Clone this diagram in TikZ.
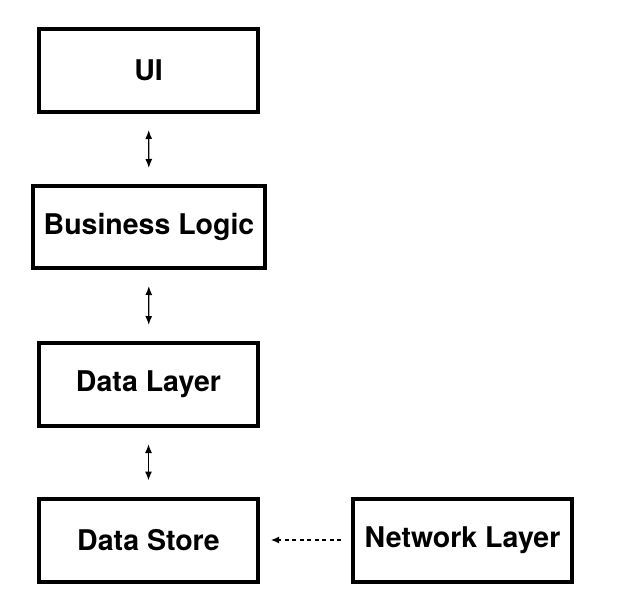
\documentclass[tikz,border=0pt]{standalone}
\usepackage{fontspec}
\setmainfont{TeX Gyre Heros}
\usetikzlibrary{positioning, arrows.meta}

\begin{document}
\begin{tikzpicture}[x=1pt, y=-1pt]
\tikzstyle{layer}=[rectangle, draw=black, line width=4pt, minimum width=219pt, minimum height=83pt, inner sep=0pt, font=\fontsize{28.5}{34}\selectfont\bfseries]
\tikzstyle{connect}=[{Latex[length=9pt,width=7pt]}-{Latex[length=9pt,width=7pt]}, line width=1.3pt, shorten <=16pt, shorten >=16pt]
\tikzstyle{feed}=[-{Latex[length=8pt,width=7pt]}, line width=1.3pt, dash pattern=on 4pt off 3.5pt, shorten <=10pt, shorten >=11pt]
\useasboundingbox (0,0) rectangle (626,610);
% 2. Nodes
%%%%%%%%%%
\node[layer] (ui) at (148.5,70.5) {UI};
\node[layer, minimum width=232pt, minimum height=82pt] (logic) at (149,227) {Business Logic};
\node[layer] (data) at (148.5,384.5) {Data Layer};
\node[layer] (store) at (148.5,540) {Data Store};
\node[layer] (net) at (462.5,540) {Network Layer};
% 3. Arrows
%%%%%%%%%%%
\path (ui)    edge [connect] (logic)
      (logic) edge [connect] (data)
      (data)  edge [connect] (store)
      (net)   edge [feed] (store);

\end{tikzpicture}
\end{document}
